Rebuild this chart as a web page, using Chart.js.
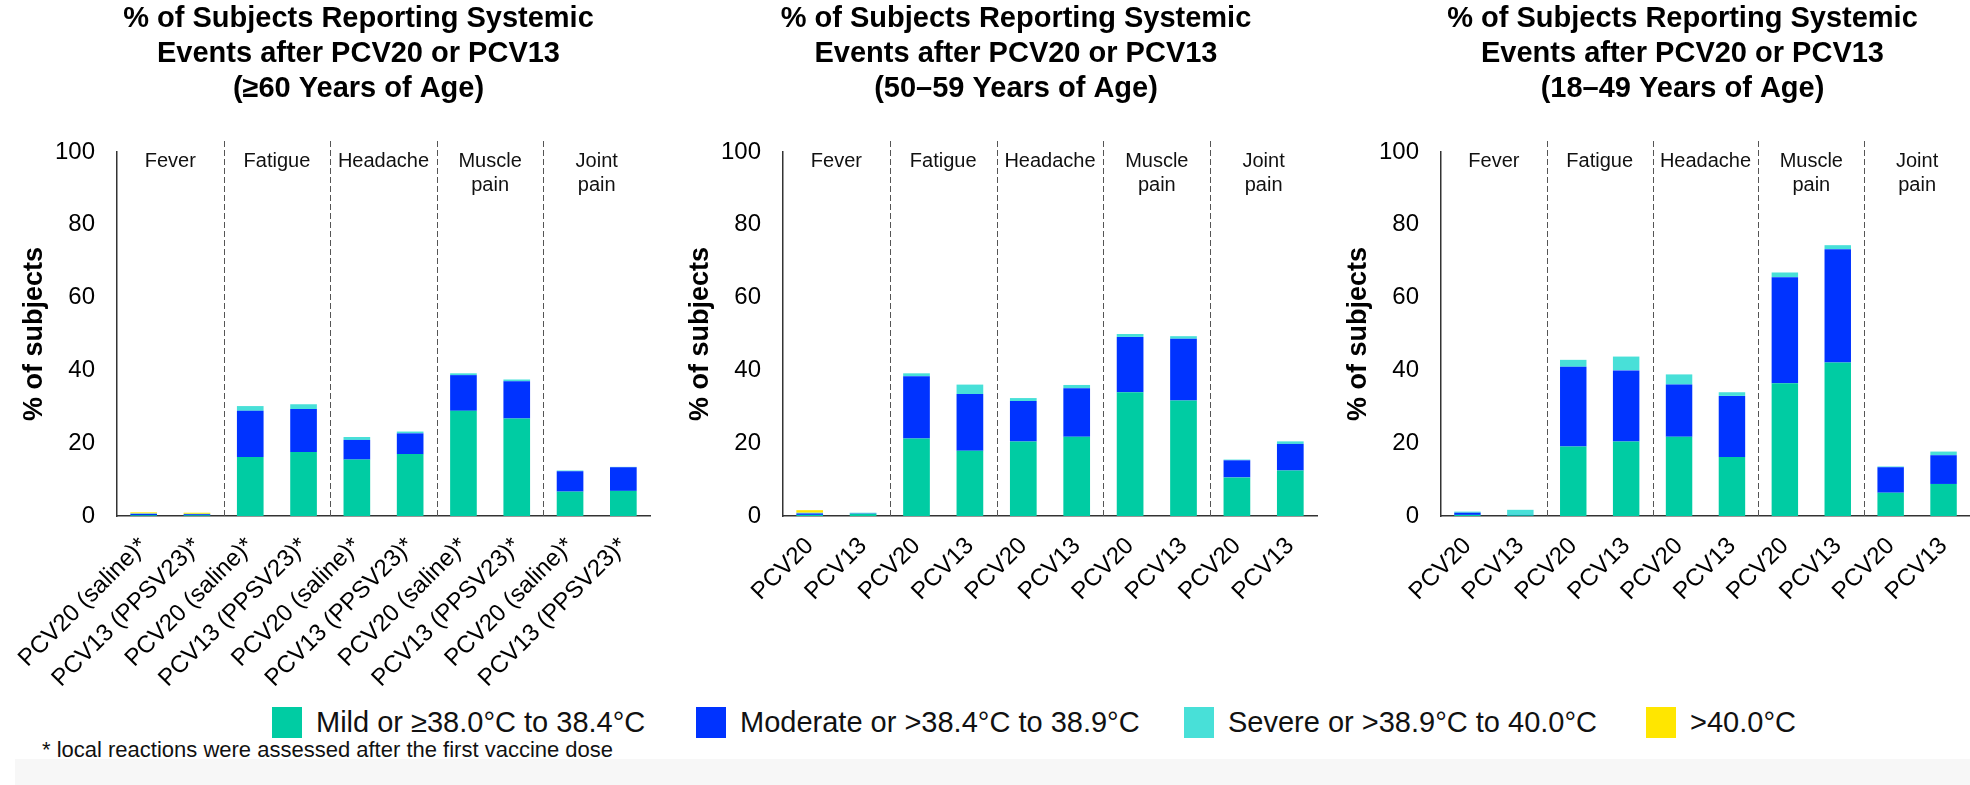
<!DOCTYPE html>
<html>
<head>
<meta charset="utf-8">
<script src="https://cdn.jsdelivr.net/npm/chart.js@4.4.1/dist/chart.umd.min.js"></script>
<style>
  html, body { margin: 0; padding: 0; background: #fff; overflow: hidden; width: 1970px; height: 785px; position: relative;
    font-family: "Liberation Sans", Arial, sans-serif; }
  canvas { position: absolute; top: 0; }
  #band { position: absolute; left: 15px; top: 759px; right: 0; height: 26px; background: #f7f7f7; }
  #note { position: absolute; left: 42px; top: 737px; font-size: 22px; line-height: 25px; color: #111; }
  .key { position: absolute; top: 707px; height: 31px; display: flex; align-items: center; font-size: 29px; color: #111; white-space: nowrap; }
  .key i { display: inline-block; width: 30px; height: 31px; margin-right: 14px; }
</style>
</head>
<body>
<div id="band"></div>
<canvas id="c60"></canvas>
<canvas id="c50"></canvas>
<canvas id="c18"></canvas>
<div id="legend"></div>
<div id="note">* local reactions were assessed after the first vaccine dose</div>
<script>
const groupNames = [["Fever"], ["Fatigue"], ["Headache"], ["Muscle", "pain"], ["Joint", "pain"]];

const labels60 = ["PCV20 (saline)*", "PCV13 (PPSV23)*", "PCV20 (saline)*", "PCV13 (PPSV23)*", "PCV20 (saline)*",
  "PCV13 (PPSV23)*", "PCV20 (saline)*", "PCV13 (PPSV23)*", "PCV20 (saline)*", "PCV13 (PPSV23)*"];
const labelsYounger = ["PCV20", "PCV13", "PCV20", "PCV13", "PCV20", "PCV13", "PCV20", "PCV13", "PCV20", "PCV13"];

const seriesNames = ["Mild or \u226538.0\u00b0C to 38.4\u00b0C", "Moderate or >38.4\u00b0C to 38.9\u00b0C",
  "Severe or >38.9\u00b0C to 40.0\u00b0C", ">40.0\u00b0C"];
const seriesColors = ["#00cca3", "#0033ff", "#48e0d8", "#ffe600"];

// >=60 years
const mild60     = [0.2, 0.2, 16.2, 17.6, 15.5, 17.0, 28.9, 26.8, 6.7, 6.9];
const moderate60 = [0.4, 0.3, 12.7, 11.8, 5.4, 5.7, 9.8, 10.2, 5.6, 6.5];
const severe60   = [0.1, 0.1, 1.3, 1.3, 0.8, 0.5, 0.5, 0.5, 0.2, 0.1];
const high60     = [0.3, 0.3, 0, 0, 0, 0, 0, 0, 0, 0];

// 50-59 years
const mild50     = [0.3, 0.6, 21.3, 17.9, 20.5, 21.8, 34.0, 31.7, 10.6, 12.5];
const moderate50 = [0.4, 0.1, 17.1, 15.6, 11.1, 13.3, 15.2, 17.0, 4.7, 7.3];
const severe50   = [0.2, 0.2, 0.8, 2.6, 0.8, 0.9, 0.8, 0.7, 0.2, 0.7];
const high50     = [0.7, 0, 0, 0, 0, 0, 0, 0, 0, 0];

// 18-49 years
const mild18     = [0.3, 0.2, 19.1, 20.5, 21.8, 16.2, 36.5, 42.2, 6.4, 8.8];
const moderate18 = [0.6, 0.1, 21.9, 19.5, 14.3, 16.8, 29.1, 31.1, 7.0, 7.9];
const severe18   = [0.3, 1.4, 1.9, 3.8, 2.8, 1.0, 1.3, 1.1, 0.2, 1.0];
const high18     = [0, 0, 0, 0, 0, 0, 0, 0, 0, 0];

const titleTop = ["% of Subjects Reporting Systemic", "Events after PCV20 or PCV13"];

const panels = [
  { id: "c60", left: 0, width: 717, rightPad: 67, age: "(\u226560 Years of Age)", labels: labels60,
    values: [mild60, moderate60, severe60, high60] },
  { id: "c50", left: 666, width: 700, rightPad: 49, age: "(50\u201359 Years of Age)", labels: labelsYounger,
    values: [mild50, moderate50, severe50, high50] },
  { id: "c18", left: 1324, width: 717, rightPad: 71, age: "(18\u201349 Years of Age)", labels: labelsYounger,
    values: [mild18, moderate18, severe18, high18] },
];

Chart.defaults.font.family = '"Liberation Sans", Arial, sans-serif';
Chart.defaults.color = "#000";

// dashed separators and symptom names above each pair of bars
const groupPlugin = {
  id: "groups",
  afterDatasetsDraw(chart) {
    const { ctx, chartArea, scales: { x } } = chart;
    ctx.save();
    ctx.strokeStyle = "#555";
    ctx.lineWidth = 1;
    ctx.setLineDash([6, 3]);
    for (let g = 1; g < groupNames.length; g++) {
      const xs = Math.round((x.getPixelForTick(2 * g - 1) + x.getPixelForTick(2 * g)) / 2) + 0.5;
      ctx.beginPath();
      ctx.moveTo(xs, chartArea.top - 11);
      ctx.lineTo(xs, chartArea.bottom);
      ctx.stroke();
    }
    ctx.setLineDash([]);
    ctx.fillStyle = "#111";
    ctx.font = '20px "Liberation Sans", Arial, sans-serif';
    ctx.textAlign = "center";
    ctx.textBaseline = "middle";
    groupNames.forEach((lines, g) => {
      const xc = (x.getPixelForTick(2 * g) + x.getPixelForTick(2 * g + 1)) / 2;
      lines.forEach((t, i) => ctx.fillText(t, xc, chartArea.top + 9 + i * 24.5));
    });
    ctx.restore();
  },
};

panels.forEach((p) => {
  const canvas = document.getElementById(p.id);
  canvas.width = p.width;
  canvas.height = 706;
  canvas.style.left = p.left + "px";

  const datasets = seriesNames.map((name, i) => ({
    label: name,
    data: p.values[i],
    backgroundColor: seriesColors[i],
    borderWidth: 0,
    barPercentage: 0.5,
    categoryPercentage: 1.0,
    yAxisID: "y",
  }));

  new Chart(canvas.getContext("2d"), {
    type: "bar",
    data: { labels: p.labels, datasets: datasets },
    plugins: [groupPlugin],
    options: {
      responsive: false,
      animation: false,
      layout: { padding: 0 },
      plugins: {
        legend: { display: false },
        tooltip: { enabled: false },
        title: {
          display: true,
          text: [...titleTop, p.age],
          font: { size: 29, weight: "bold" },
          color: "#000",
          padding: { top: 2, bottom: 45.6 },
        },
      },
      scales: {
        x: {
          stacked: true,
          offset: true,
          grid: { display: false, drawTicks: false },
          border: { color: "#333", width: 1.5 },
          ticks: { autoSkip: false, minRotation: 45, maxRotation: 45, padding: 16, font: { size: 24 }, color: "#000" },
          afterFit: (s) => { s.height = 190; },
        },
        y: {
          stacked: true,
          min: 0,
          max: 100,
          grid: { display: false, drawTicks: false },
          border: { color: "#333", width: 1.5 },
          ticks: { stepSize: 20, padding: 22, font: { size: 24 }, color: "#000" },
          title: {
            display: true,
            text: "% of subjects",
            font: { size: 27, weight: "bold" },
            color: "#000",
            padding: { top: 18, bottom: 0 },
          },
          afterFit: (s) => { s.width = 117; },
        },
        pad: {
          type: "linear",
          position: "right",
          grid: { display: false },
          border: { display: false },
          ticks: { display: false },
          afterFit: (s) => { s.width = p.rightPad; },
        },
      },
    },
  });
});

// shared legend under the three panels
const legendLeft = [272, 696, 1184, 1646];
const legend = document.getElementById("legend");
seriesNames.forEach((name, i) => {
  const item = document.createElement("div");
  item.className = "key";
  item.style.left = legendLeft[i] + "px";
  const sw = document.createElement("i");
  sw.style.background = seriesColors[i];
  item.appendChild(sw);
  item.appendChild(document.createTextNode(name));
  legend.appendChild(item);
});
</script>
</body>
</html>
